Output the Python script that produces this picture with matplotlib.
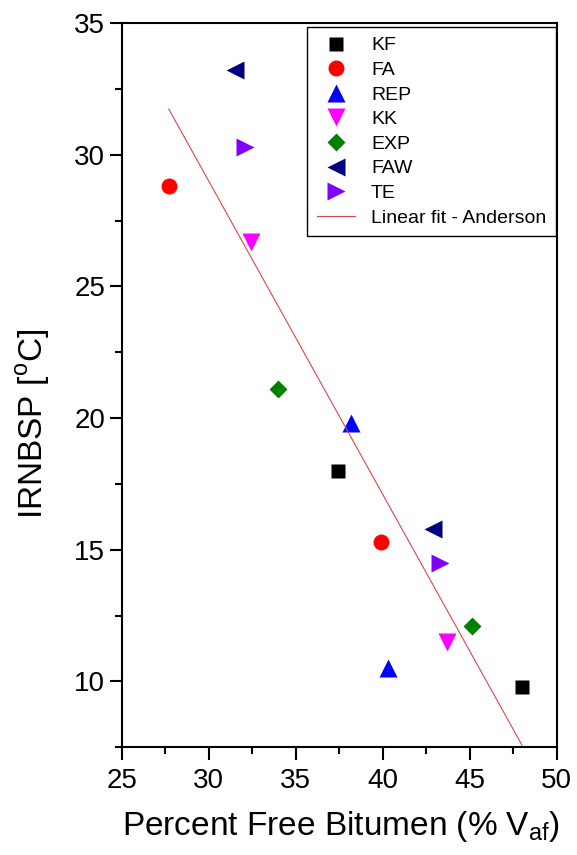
import matplotlib
matplotlib.use('Agg')
import matplotlib.pyplot as plt
from matplotlib.ticker import MultipleLocator

# Percent free bitumen (x) and IRNBSP (y), two points per filler
kf_x = [37.4, 48.0]
kf_y = [18.0, 9.8]
fa_x = [27.7, 39.9]
fa_y = [28.8, 15.3]
rep_x = [38.2, 40.3]
rep_y = [19.8, 10.5]
kk_x = [32.4, 43.7]
kk_y = [26.7, 11.5]
exp_x = [34.0, 45.1]
exp_y = [21.1, 12.1]
faw_x = [31.5, 42.9]
faw_y = [33.2, 15.8]
te_x = [32.1, 43.3]
te_y = [30.3, 14.5]

# linear fit (Anderson): y = a + b*x over the data range
fit_a = 64.7
fit_b = -1.19
fit_x = [27.7, 48.0]

plt.rcParams['font.family'] = ['Liberation Sans', 'DejaVu Sans']

fig = plt.figure(figsize=(5.77, 8.55), dpi=100)
ax = fig.add_axes([0.211, 0.126, 0.754, 0.847])

ax.plot(kf_x, kf_y, 's', color='black', ms=9.5, mec='none', label='KF')
ax.plot(fa_x, fa_y, 'o', color='red', ms=11.5, mec='none', label='FA')
ax.plot(rep_x, rep_y, '^', color='blue', ms=13, mec='none', label='REP')
ax.plot(kk_x, kk_y, 'v', color='#ff00ff', ms=13, mec='none', label='KK')
ax.plot(exp_x, exp_y, 'D', color='#008000', ms=9, mec='none', label='EXP')
ax.plot(faw_x, faw_y, '<', color='#000080', ms=13, mec='none', label='FAW')
ax.plot(te_x, te_y, '>', color='#8000ff', ms=13, mec='none', label='TE')
ax.plot(fit_x, [fit_a + fit_b * v for v in fit_x], '-', color='#d84848', lw=0.8,
        label='Linear fit - Anderson')

ax.set_xlim(25, 50)
ax.set_ylim(7.5, 35)
ax.xaxis.set_major_locator(MultipleLocator(5))
ax.xaxis.set_minor_locator(MultipleLocator(2.5))
ax.yaxis.set_major_locator(MultipleLocator(5))
ax.yaxis.set_minor_locator(MultipleLocator(2.5))
ax.tick_params(which='major', direction='out', length=9, width=1.5, labelsize=20)
ax.tick_params(which='minor', direction='out', length=5, width=1.5)
ax.tick_params(axis='x', which='major', pad=6)
ax.tick_params(axis='y', which='major', pad=3)
for s in ax.spines.values():
    s.set_linewidth(1.5)

ax.set_xlabel('Percent Free Bitumen (% V$_\\mathregular{af}$)', fontsize=24)
ax.set_ylabel('IRNBSP [$^\\mathregular{o}$C]', fontsize=24)
ax.xaxis.set_label_coords(0.503, -0.085)
ax.yaxis.set_label_coords(-0.16, 0.447)

leg = ax.legend(loc='upper right', fontsize=14, frameon=True, fancybox=False,
                edgecolor='black', framealpha=1, borderpad=0.5, labelspacing=0.36,
                handlelength=2.0, handletextpad=0.8, borderaxespad=0,
                bbox_to_anchor=(0.998, 0.9945))
leg.get_frame().set_linewidth(1.0)

fig.savefig('out.png', dpi=100)
